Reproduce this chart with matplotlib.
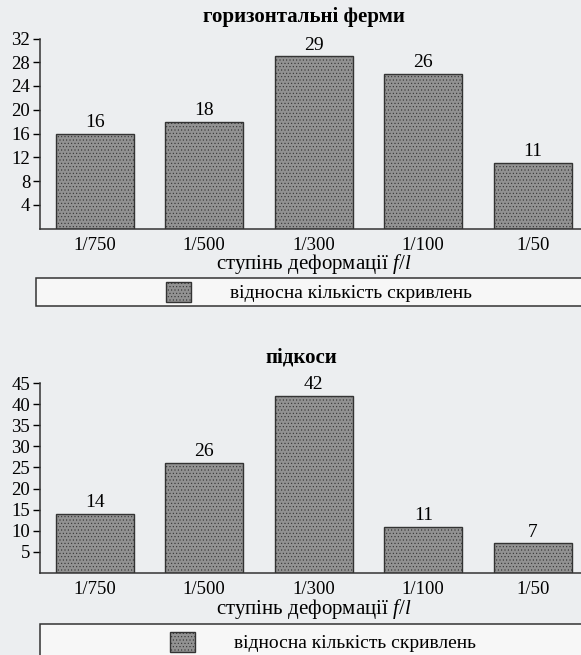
import matplotlib
matplotlib.use("Agg")
import matplotlib.pyplot as plt
from matplotlib.patches import Rectangle

plt.rcParams['font.family'] = ['Liberation Serif', 'DejaVu Serif']
plt.rcParams['mathtext.fontset'] = 'custom'
plt.rcParams['mathtext.it'] = 'Liberation Serif:italic'
plt.rcParams['mathtext.rm'] = 'Liberation Serif'
plt.rcParams['hatch.linewidth'] = 0.4

# data
categories = ['1/750', '1/500', '1/300', '1/100', '1/50']
trusses = [16, 18, 29, 26, 11]      # горизонтальні ферми
braces = [14, 26, 42, 11, 7]        # підкоси
trusses_ticks = [4, 8, 12, 16, 20, 24, 28, 32]
braces_ticks = [5, 10, 15, 20, 25, 30, 35, 40, 45]
legend_label = 'відносна кількість скривлень'
xlabel = 'ступінь деформації $f/l$'

bg = '#eceef0'
W, H = 581, 655
fig = plt.figure(figsize=(5.81, 6.55), dpi=100, facecolor=bg)


def panel(rect, values, ticks, title, title_xy, box):
    ax = fig.add_axes(rect)
    ax.patch.set_alpha(0)
    x = range(len(categories))
    bars = ax.bar(x, values, width=0.71, color='#929292', edgecolor='#333333',
                  linewidth=1.0, hatch='.....')
    for xi, v in zip(x, values):
        ax.annotate(str(v), (xi, v), xytext=(0, 2), textcoords='offset points',
                    ha='center', va='bottom', fontsize=14)
    ax.set_xlim(-0.5, 4.5)
    ax.set_ylim(0, ticks[-1])
    ax.set_yticks(ticks)
    ax.set_xticks(list(x))
    ax.set_xticklabels(categories, fontsize=13.5)
    ax.tick_params(axis='x', length=0, pad=6)
    ax.tick_params(axis='y', length=5, width=1, labelsize=13.5, pad=2)
    for s in ['top', 'right']:
        ax.spines[s].set_visible(False)
    for s in ['left', 'bottom']:
        ax.spines[s].set_color('#333333')
        ax.spines[s].set_linewidth(1.1)
    fig.text(title_xy[0] / W, 1 - title_xy[1] / H, title, fontsize=15,
             fontweight='bold', ha='center', va='center')
    ax.set_xlabel(xlabel, fontsize=15, labelpad=-1)

    # legend box
    bx, by, bw, bh, cx, cy = box
    fig.patches.append(Rectangle((bx, by), bw, bh, transform=fig.transFigure,
                                 facecolor='#f7f7f7', edgecolor='#333333',
                                 linewidth=1.1))
    fig.legend([bars], [legend_label], loc='center', bbox_to_anchor=(cx, cy),
               frameon=False, fontsize=14, handlelength=1.3, handleheight=1.2,
               handletextpad=2.0)
    return ax


panel([40 / W, 1 - 228.5 / H, 547.5 / W, 190 / H], trusses,
      trusses_ticks, 'горизонтальні ферми', (304, 17),
      (36 / W, 1 - 306 / H, 1.0, 28 / H, 319 / W, 1 - 292 / H))
panel([40 / W, 1 - 573 / H, 547.5 / W, 190 / H], braces,
      braces_ticks, 'підкоси', (301, 357),
      (40 / W, 1 - 662 / H, 1.0, 38 / H, 323 / W, 1 - 642 / H))

fig.savefig('out.png', dpi=100, facecolor=bg)
